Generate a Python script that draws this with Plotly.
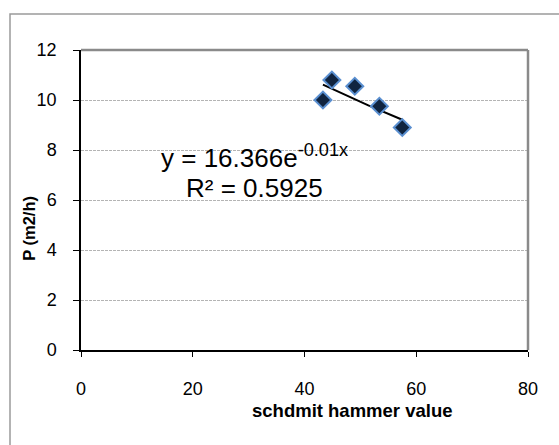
import numpy as np
import plotly.graph_objects as go

# Measured samples
hammer = [43.3, 44.9, 49.0, 53.4, 57.5]
rate = [10.0, 10.8, 10.55, 9.75, 8.9]

# Exponential trendline y = A * exp(B * x) and its fit quality
trend_a = 16.366
trend_b = -0.01
r_squared = 0.5925

x_ticks = [0, 20, 40, 60, 80]
y_ticks = [0, 2, 4, 6, 8, 10, 12]

FONT = "Liberation Sans, Arial, sans-serif"

W, H = 559, 445
L, R, T, B = 81, 31, 50, 95
PW, PH = W - L - R, H - T - B


def px(x):
    return (x - L) / PW


def py(y):
    return (H - B - y) / PH


trend_x = np.linspace(min(hammer), max(hammer), 50)
trend_y = trend_a * np.exp(trend_b * trend_x)

fig = go.Figure()
fig.add_trace(go.Scatter(
    x=trend_x, y=trend_y, mode="lines",
    line=dict(color="black", width=2),
    hoverinfo="skip", showlegend=False,
))
fig.add_trace(go.Scatter(
    x=hammer, y=rate, mode="markers",
    marker=dict(symbol="diamond", size=13, color="#10243f",
                line=dict(color="#5a8fd0", width=2)),
    showlegend=False,
))

fig.update_layout(
    width=W, height=H,
    margin=dict(l=L, r=R, t=T, b=B, pad=0),
    paper_bgcolor="white", plot_bgcolor="white",
    font=dict(family=FONT, size=18, color="black"),
    xaxis=dict(
        range=[0, 80], tickvals=x_ticks, ticks="outside", ticklen=5,
        tickcolor="black", tickwidth=1, showgrid=False, zeroline=False,
        showline=True, linecolor="black", linewidth=1.5, automargin=False,
        tickfont=dict(size=18), ticklabelstandoff=17,
    ),
    yaxis=dict(
        range=[0, 12], tickvals=y_ticks, ticks="outside", ticklen=6,
        tickcolor="black", tickwidth=1, showgrid=True,
        gridcolor="#b4b4b4", gridwidth=1, griddash="3px,1px",
        zeroline=False, showline=True, linecolor="black", linewidth=1.5,
        automargin=False, tickfont=dict(size=18), ticklabelstandoff=13,
    ),
    shapes=[
        # chart area frame
        dict(type="rect", xref="paper", yref="paper",
             x0=px(10), x1=px(W + 20), y0=py(H + 20), y1=py(14),
             line=dict(color="#9a9a9a", width=1.5), fillcolor="rgba(0,0,0,0)",
             layer="below"),
        # plot area top and right border
        dict(type="line", xref="paper", yref="paper", x0=0, x1=1, y0=1, y1=1,
             line=dict(color="#8a8a8a", width=2.5)),
        dict(type="line", xref="paper", yref="paper", x0=1, x1=1, y0=0, y1=1,
             line=dict(color="#8a8a8a", width=2.5)),
    ],
    annotations=[
        dict(text=f"y = {trend_a:.3f}e<sup>{trend_b:g}x</sup>",
             xref="paper", yref="paper", x=px(254), y=py(156),
             xanchor="center", yanchor="middle", showarrow=False,
             font=dict(size=26)),
        dict(text=f"R² = {r_squared:.4f}",
             xref="paper", yref="paper", x=px(254.5), y=py(188),
             xanchor="center", yanchor="middle", showarrow=False,
             font=dict(size=26)),
        dict(text="<b>schdmit hammer value</b>",
             xref="paper", yref="paper", x=px(352.8), y=py(410),
             xanchor="center", yanchor="middle", showarrow=False,
             font=dict(size=18.5)),
        dict(text="<b>P (m2/h)</b>", textangle=-90,
             xref="paper", yref="paper", x=px(28.3), y=py(228.5),
             xanchor="center", yanchor="middle", showarrow=False,
             font=dict(size=16.5)),
    ],
)

fig.write_html("out.html")
